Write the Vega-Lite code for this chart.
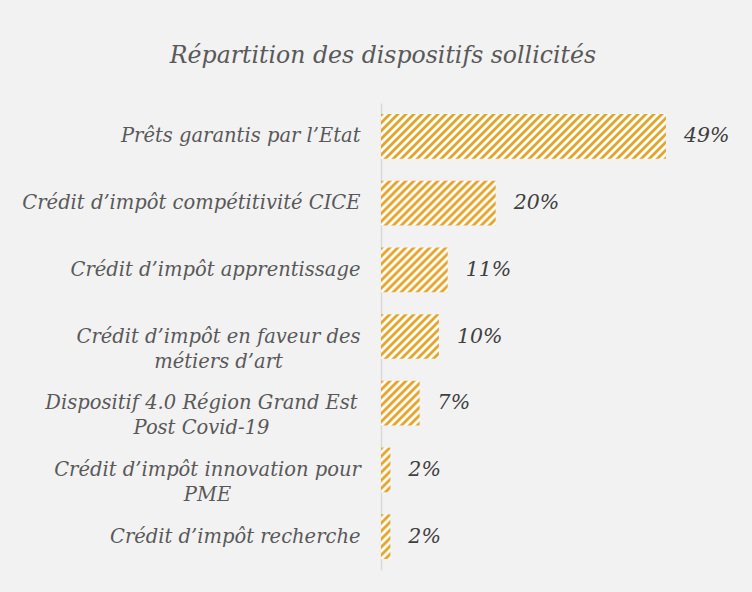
{
  "$schema": "https://vega.github.io/schema/vega-lite/v6.json",
  "background": "#f2f2f2",
  "padding": {"left": 21, "top": 44, "right": 22, "bottom": 22},
  "width": 351,
  "height": 467,
  "title": {
    "text": "Répartition des dispositifs sollicités",
    "font": "DejaVu Serif",
    "fontStyle": "italic",
    "fontWeight": "normal",
    "fontSize": 23.6,
    "color": "#595959",
    "anchor": "middle",
    "frame": "bounds",
    "offset": 35,
    "dx": 6
  },
  "config": {"view": {"stroke": null}},
  "data": {
    "values": [
      {"dispositif": "Prêts garantis par l’Etat", "value": 0.487},
      {"dispositif": "Crédit d’impôt compétitivité CICE", "value": 0.196},
      {"dispositif": "Crédit d’impôt apprentissage", "value": 0.114},
      {"dispositif": "Crédit d’impôt en faveur des\nmétiers d’art", "value": 0.099},
      {"dispositif": "Dispositif 4.0  Région Grand Est\nPost Covid-19", "value": 0.066},
      {"dispositif": "Crédit d’impôt innovation pour\nPME", "value": 0.016},
      {"dispositif": "Crédit d’impôt recherche", "value": 0.016}
    ]
  },
  "encoding": {
    "y": {
      "field": "dispositif",
      "type": "nominal",
      "sort": null,
      "scale": {"paddingInner": 0.33, "paddingOuter": 0.165},
      "axis": {
        "title": null,
        "ticks": false,
        "domainColor": "#d9d9d9",
        "domainWidth": 1.5,
        "labelExpr": "split(datum.label, '\\n')",
        "labelFont": "DejaVu Serif",
        "labelFontStyle": "italic",
        "labelFontSize": 19.5,
        "labelColor": "#595959",
        "labelLineHeight": 25,
        "labelLimit": 500,
        "labelAlign": {
          "condition": {"test": "indexof(datum.value, '\\n') >= 0", "value": "center"},
          "value": "right"
        },
        "labelPadding": {
          "condition": [
            {"test": "indexof(datum.value, 'métiers') >= 0", "value": 163},
            {"test": "indexof(datum.value, 'Dispositif') >= 0", "value": 180},
            {"test": "indexof(datum.value, 'innovation') >= 0", "value": 174}
          ],
          "value": 21
        }
      }
    },
    "x": {
      "field": "value",
      "type": "quantitative",
      "stack": null,
      "scale": {"domain": [0, 0.6], "nice": false},
      "axis": null
    }
  },
  "layer": [
    {
      "mark": {"type": "bar"},
      "encoding": {
        "fill": {"value": {"expr": "{gradient:'linear',x1:0,y1:0,x2:(scale('x',datum.value)-scale('x',0))*360/(pow(scale('x',datum.value)-scale('x',0),2)+pow(bandwidth('y'),2)),y2:bandwidth('y')*360/(pow(scale('x',datum.value)-scale('x',0),2)+pow(bandwidth('y'),2)),stops:[{offset:0/180,color:'#e4a42a'},{offset:1/180,color:'#e4a42a'},{offset:2/180,color:'#fff'},{offset:3/180,color:'#fff'},{offset:4/180,color:'#e4a42a'},{offset:5/180,color:'#e4a42a'},{offset:6/180,color:'#fff'},{offset:7/180,color:'#fff'},{offset:8/180,color:'#e4a42a'},{offset:9/180,color:'#e4a42a'},{offset:10/180,color:'#fff'},{offset:11/180,color:'#fff'},{offset:12/180,color:'#e4a42a'},{offset:13/180,color:'#e4a42a'},{offset:14/180,color:'#fff'},{offset:15/180,color:'#fff'},{offset:16/180,color:'#e4a42a'},{offset:17/180,color:'#e4a42a'},{offset:18/180,color:'#fff'},{offset:19/180,color:'#fff'},{offset:20/180,color:'#e4a42a'},{offset:21/180,color:'#e4a42a'},{offset:22/180,color:'#fff'},{offset:23/180,color:'#fff'},{offset:24/180,color:'#e4a42a'},{offset:25/180,color:'#e4a42a'},{offset:26/180,color:'#fff'},{offset:27/180,color:'#fff'},{offset:28/180,color:'#e4a42a'},{offset:29/180,color:'#e4a42a'},{offset:30/180,color:'#fff'},{offset:31/180,color:'#fff'},{offset:32/180,color:'#e4a42a'},{offset:33/180,color:'#e4a42a'},{offset:34/180,color:'#fff'},{offset:35/180,color:'#fff'},{offset:36/180,color:'#e4a42a'},{offset:37/180,color:'#e4a42a'},{offset:38/180,color:'#fff'},{offset:39/180,color:'#fff'},{offset:40/180,color:'#e4a42a'},{offset:41/180,color:'#e4a42a'},{offset:42/180,color:'#fff'},{offset:43/180,color:'#fff'},{offset:44/180,color:'#e4a42a'},{offset:45/180,color:'#e4a42a'},{offset:46/180,color:'#fff'},{offset:47/180,color:'#fff'},{offset:48/180,color:'#e4a42a'},{offset:49/180,color:'#e4a42a'},{offset:50/180,color:'#fff'},{offset:51/180,color:'#fff'},{offset:52/180,color:'#e4a42a'},{offset:53/180,color:'#e4a42a'},{offset:54/180,color:'#fff'},{offset:55/180,color:'#fff'},{offset:56/180,color:'#e4a42a'},{offset:57/180,color:'#e4a42a'},{offset:58/180,color:'#fff'},{offset:59/180,color:'#fff'},{offset:60/180,color:'#e4a42a'},{offset:61/180,color:'#e4a42a'},{offset:62/180,color:'#fff'},{offset:63/180,color:'#fff'},{offset:64/180,color:'#e4a42a'},{offset:65/180,color:'#e4a42a'},{offset:66/180,color:'#fff'},{offset:67/180,color:'#fff'},{offset:68/180,color:'#e4a42a'},{offset:69/180,color:'#e4a42a'},{offset:70/180,color:'#fff'},{offset:71/180,color:'#fff'},{offset:72/180,color:'#e4a42a'},{offset:73/180,color:'#e4a42a'},{offset:74/180,color:'#fff'},{offset:75/180,color:'#fff'},{offset:76/180,color:'#e4a42a'},{offset:77/180,color:'#e4a42a'},{offset:78/180,color:'#fff'},{offset:79/180,color:'#fff'},{offset:80/180,color:'#e4a42a'},{offset:81/180,color:'#e4a42a'},{offset:82/180,color:'#fff'},{offset:83/180,color:'#fff'},{offset:84/180,color:'#e4a42a'},{offset:85/180,color:'#e4a42a'},{offset:86/180,color:'#fff'},{offset:87/180,color:'#fff'},{offset:88/180,color:'#e4a42a'},{offset:89/180,color:'#e4a42a'},{offset:90/180,color:'#fff'},{offset:91/180,color:'#fff'},{offset:92/180,color:'#e4a42a'},{offset:93/180,color:'#e4a42a'},{offset:94/180,color:'#fff'},{offset:95/180,color:'#fff'},{offset:96/180,color:'#e4a42a'},{offset:97/180,color:'#e4a42a'},{offset:98/180,color:'#fff'},{offset:99/180,color:'#fff'},{offset:100/180,color:'#e4a42a'},{offset:101/180,color:'#e4a42a'},{offset:102/180,color:'#fff'},{offset:103/180,color:'#fff'},{offset:104/180,color:'#e4a42a'},{offset:105/180,color:'#e4a42a'},{offset:106/180,color:'#fff'},{offset:107/180,color:'#fff'},{offset:108/180,color:'#e4a42a'},{offset:109/180,color:'#e4a42a'},{offset:110/180,color:'#fff'},{offset:111/180,color:'#fff'},{offset:112/180,color:'#e4a42a'},{offset:113/180,color:'#e4a42a'},{offset:114/180,color:'#fff'},{offset:115/180,color:'#fff'},{offset:116/180,color:'#e4a42a'},{offset:117/180,color:'#e4a42a'},{offset:118/180,color:'#fff'},{offset:119/180,color:'#fff'},{offset:120/180,color:'#e4a42a'},{offset:121/180,color:'#e4a42a'},{offset:122/180,color:'#fff'},{offset:123/180,color:'#fff'},{offset:124/180,color:'#e4a42a'},{offset:125/180,color:'#e4a42a'},{offset:126/180,color:'#fff'},{offset:127/180,color:'#fff'},{offset:128/180,color:'#e4a42a'},{offset:129/180,color:'#e4a42a'},{offset:130/180,color:'#fff'},{offset:131/180,color:'#fff'},{offset:132/180,color:'#e4a42a'},{offset:133/180,color:'#e4a42a'},{offset:134/180,color:'#fff'},{offset:135/180,color:'#fff'},{offset:136/180,color:'#e4a42a'},{offset:137/180,color:'#e4a42a'},{offset:138/180,color:'#fff'},{offset:139/180,color:'#fff'},{offset:140/180,color:'#e4a42a'},{offset:141/180,color:'#e4a42a'},{offset:142/180,color:'#fff'},{offset:143/180,color:'#fff'},{offset:144/180,color:'#e4a42a'},{offset:145/180,color:'#e4a42a'},{offset:146/180,color:'#fff'},{offset:147/180,color:'#fff'},{offset:148/180,color:'#e4a42a'},{offset:149/180,color:'#e4a42a'},{offset:150/180,color:'#fff'},{offset:151/180,color:'#fff'},{offset:152/180,color:'#e4a42a'},{offset:153/180,color:'#e4a42a'},{offset:154/180,color:'#fff'},{offset:155/180,color:'#fff'},{offset:156/180,color:'#e4a42a'},{offset:157/180,color:'#e4a42a'},{offset:158/180,color:'#fff'},{offset:159/180,color:'#fff'},{offset:160/180,color:'#e4a42a'},{offset:161/180,color:'#e4a42a'},{offset:162/180,color:'#fff'},{offset:163/180,color:'#fff'},{offset:164/180,color:'#e4a42a'},{offset:165/180,color:'#e4a42a'},{offset:166/180,color:'#fff'},{offset:167/180,color:'#fff'},{offset:168/180,color:'#e4a42a'},{offset:169/180,color:'#e4a42a'},{offset:170/180,color:'#fff'},{offset:171/180,color:'#fff'},{offset:172/180,color:'#e4a42a'},{offset:173/180,color:'#e4a42a'},{offset:174/180,color:'#fff'},{offset:175/180,color:'#fff'},{offset:176/180,color:'#e4a42a'},{offset:177/180,color:'#e4a42a'},{offset:178/180,color:'#fff'},{offset:179/180,color:'#fff'},{offset:1,color:'#e4a42a'}]}"}}
      }
    },
    {
      "mark": {
        "type": "text",
        "align": "left",
        "baseline": "middle",
        "dx": 18,
        "font": "DejaVu Serif",
        "fontStyle": "italic",
        "fontSize": 20.5,
        "color": "#404040"
      },
      "encoding": {
        "text": {"field": "value", "type": "quantitative", "format": ".0%"}
      }
    }
  ]
}
